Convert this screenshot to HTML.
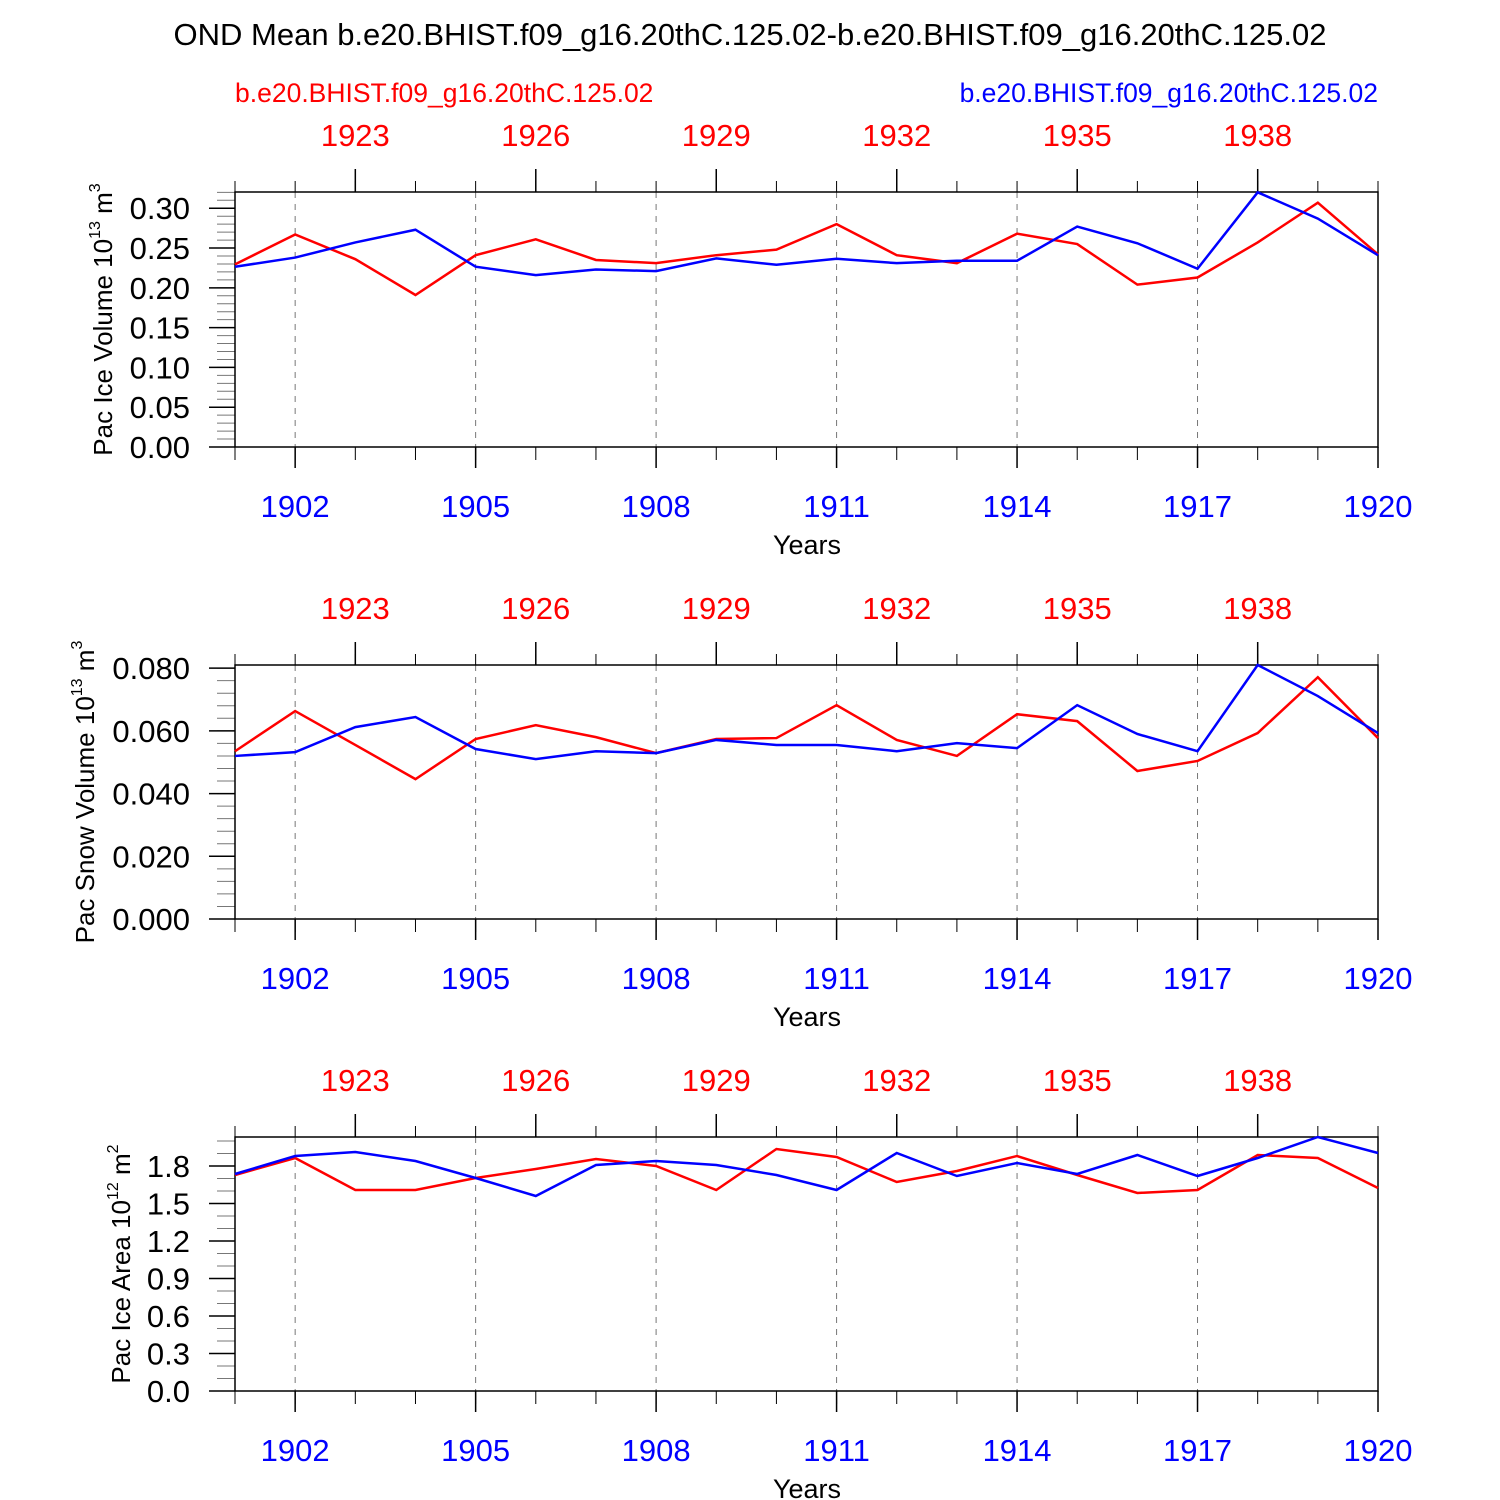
<!DOCTYPE html>
<html><head><meta charset="utf-8"><style>
body{margin:0;background:#fff}
svg{display:block;font-family:"Liberation Sans",sans-serif}
</style></head><body>
<svg id="c" width="1500" height="1500" xmlns="http://www.w3.org/2000/svg">
<text x="750" y="45" font-size="31" text-anchor="middle">OND Mean b.e20.BHIST.f09_g16.20thC.125.02-b.e20.BHIST.f09_g16.20thC.125.02</text>
<text x="235" y="102" font-size="26.5" fill="#f00">b.e20.BHIST.f09_g16.20thC.125.02</text>
<text x="1378" y="102" font-size="26.5" fill="#00f" text-anchor="end">b.e20.BHIST.f09_g16.20thC.125.02</text>
</svg>
<script>
const years=[1901,1902,1903,1904,1905,1906,1907,1908,1909,1910,1911,1912,1913,1914,1915,1916,1917,1918,1919,1920];
const iceVolRed=[0.2295,0.267,0.236,0.191,0.241,0.261,0.235,0.231,0.241,0.248,0.280,0.241,0.231,0.268,0.255,0.204,0.213,0.257,0.307,0.242];
const iceVolBlue=[0.2265,0.238,0.257,0.273,0.2265,0.216,0.223,0.221,0.237,0.229,0.2365,0.231,0.234,0.234,0.277,0.256,0.224,0.320,0.287,0.241];
const snowRed=[0.0535,0.0663,0.0555,0.0446,0.0574,0.0618,0.058,0.0529,0.0574,0.0577,0.0682,0.0571,0.052,0.0653,0.0631,0.0472,0.0504,0.0593,0.0771,0.0577];
const snowBlue=[0.052,0.0532,0.0612,0.0644,0.0542,0.051,0.0535,0.0529,0.0571,0.0555,0.0555,0.0535,0.0561,0.0545,0.0682,0.059,0.0535,0.081,0.0711,0.0593];
const areaRed=[1.728,1.864,1.608,1.608,1.704,1.776,1.856,1.8,1.608,1.936,1.872,1.672,1.76,1.88,1.728,1.584,1.608,1.888,1.864,1.624];
const areaBlue=[1.736,1.88,1.912,1.84,1.704,1.56,1.808,1.84,1.808,1.728,1.608,1.904,1.72,1.824,1.736,1.888,1.72,1.864,2.032,1.904];
const ticks1=["0.00","0.05","0.10","0.15","0.20","0.25","0.30"];
const ticks2=["0.000","0.020","0.040","0.060","0.080"];
const ticks3=["0.0","0.3","0.6","0.9","1.2","1.5","1.8"];
const bottomYears=[1902,1905,1908,1911,1914,1917,1920];
const topYears=[1923,1926,1929,1932,1935,1938];

const NS="http://www.w3.org/2000/svg",svg=document.getElementById('c');
const X0=235,X1=1378;
function x(yr){return X0+(yr-1901)*(X1-X0)/19;}
function mk(t,a,p){const e=document.createElementNS(NS,t);for(const k in a)e.setAttribute(k,a[k]);(p||svg).appendChild(e);return e;}
function panel(name,top,bot,ymax,ticks,step,minor,title,exp,unit,red,blue){
  const g=mk('g',{});
  
  
  const y=v=>bot-v*(bot-top)/ymax;
  bottomYears.forEach(yr=>{if(yr<1920){const l=mk('line',{x1:x(yr),x2:x(yr),y1:top,y2:bot,stroke:'#777','stroke-dasharray':'6,6','stroke-width':1},g);}});
  years.forEach(yr=>{mk('line',{x1:x(yr),x2:x(yr),y1:bot,y2:bot+13,stroke:'#000','stroke-width':1},g);mk('line',{x1:x(yr),x2:x(yr),y1:top,y2:top-11,stroke:'#000','stroke-width':1},g);});
  bottomYears.forEach(yr=>{mk('line',{x1:x(yr),x2:x(yr),y1:bot,y2:bot+21,stroke:'#000','stroke-width':1.5},g);
    const t=mk('text',{x:x(yr),y:bot+70,'font-size':31,fill:'#00f','text-anchor':'middle'},g);t.textContent=yr;
    });
  topYears.forEach(yr=>{const bx=x(yr-20);mk('line',{x1:bx,x2:bx,y1:top,y2:top-23,stroke:'#000','stroke-width':1.5},g);
    const t=mk('text',{x:bx,y:top-46,'font-size':31,fill:'#f00','text-anchor':'middle'},g);t.textContent=yr;
    });
  for(let v=0;v<=ymax+1e-9;v+=minor){mk('line',{x1:X0-18,x2:X0,y1:y(v),y2:y(v),stroke:'#777','stroke-width':1},g);}
  ticks.forEach((s,i)=>{const v=i*step;mk('line',{x1:X0-26,x2:X0,y1:y(v),y2:y(v),stroke:'#000','stroke-width':1.5},g);
    const t=mk('text',{x:X0-45,y:y(v)+11,'font-size':31,'text-anchor':'end'},g);t.textContent=s;
    });
  mk('rect',{x:X0,y:top,width:X1-X0,height:bot-top,fill:'none',stroke:'#000','stroke-width':1.5},g);
  [[red,'#f00','red-series'],[blue,'#00f','blue-series']].forEach(([d,c,n])=>{
    const p=mk('polyline',{points:d.map((v,i)=>x(years[i])+','+y(v)).join(' '),fill:'none',stroke:c,'stroke-width':2.5},g);
    });
  const xt=mk('text',{x:807,y:bot+107,'font-size':27,'text-anchor':'middle'},g);xt.textContent='Years';
  
  const cy=(top+bot)/2;
  const yt=mk('text',{x:0,y:0,'font-size':26,'text-anchor':'middle',transform:`translate(${title[1]},${cy}) rotate(-90)`},g);
  yt.innerHTML=title[0]+' 10<tspan dy="-12" font-size="16">'+exp+'</tspan><tspan dy="12"> m</tspan><tspan dy="-12" font-size="16">'+unit+'</tspan>';
  
}
panel('panel-ice-volume',192,447,0.3204,ticks1,0.05,0.01,['Pac Ice Volume',112],'13','3',iceVolRed,iceVolBlue);
panel('panel-snow-volume',665,919,0.081,ticks2,0.02,0.004,['Pac Snow Volume',94],'13','3',snowRed,snowBlue);
panel('panel-ice-area',1137,1391,2.032,ticks3,0.3,0.1,['Pac Ice Area',130],'12','2',areaRed,areaBlue);
</script>
</body></html>
